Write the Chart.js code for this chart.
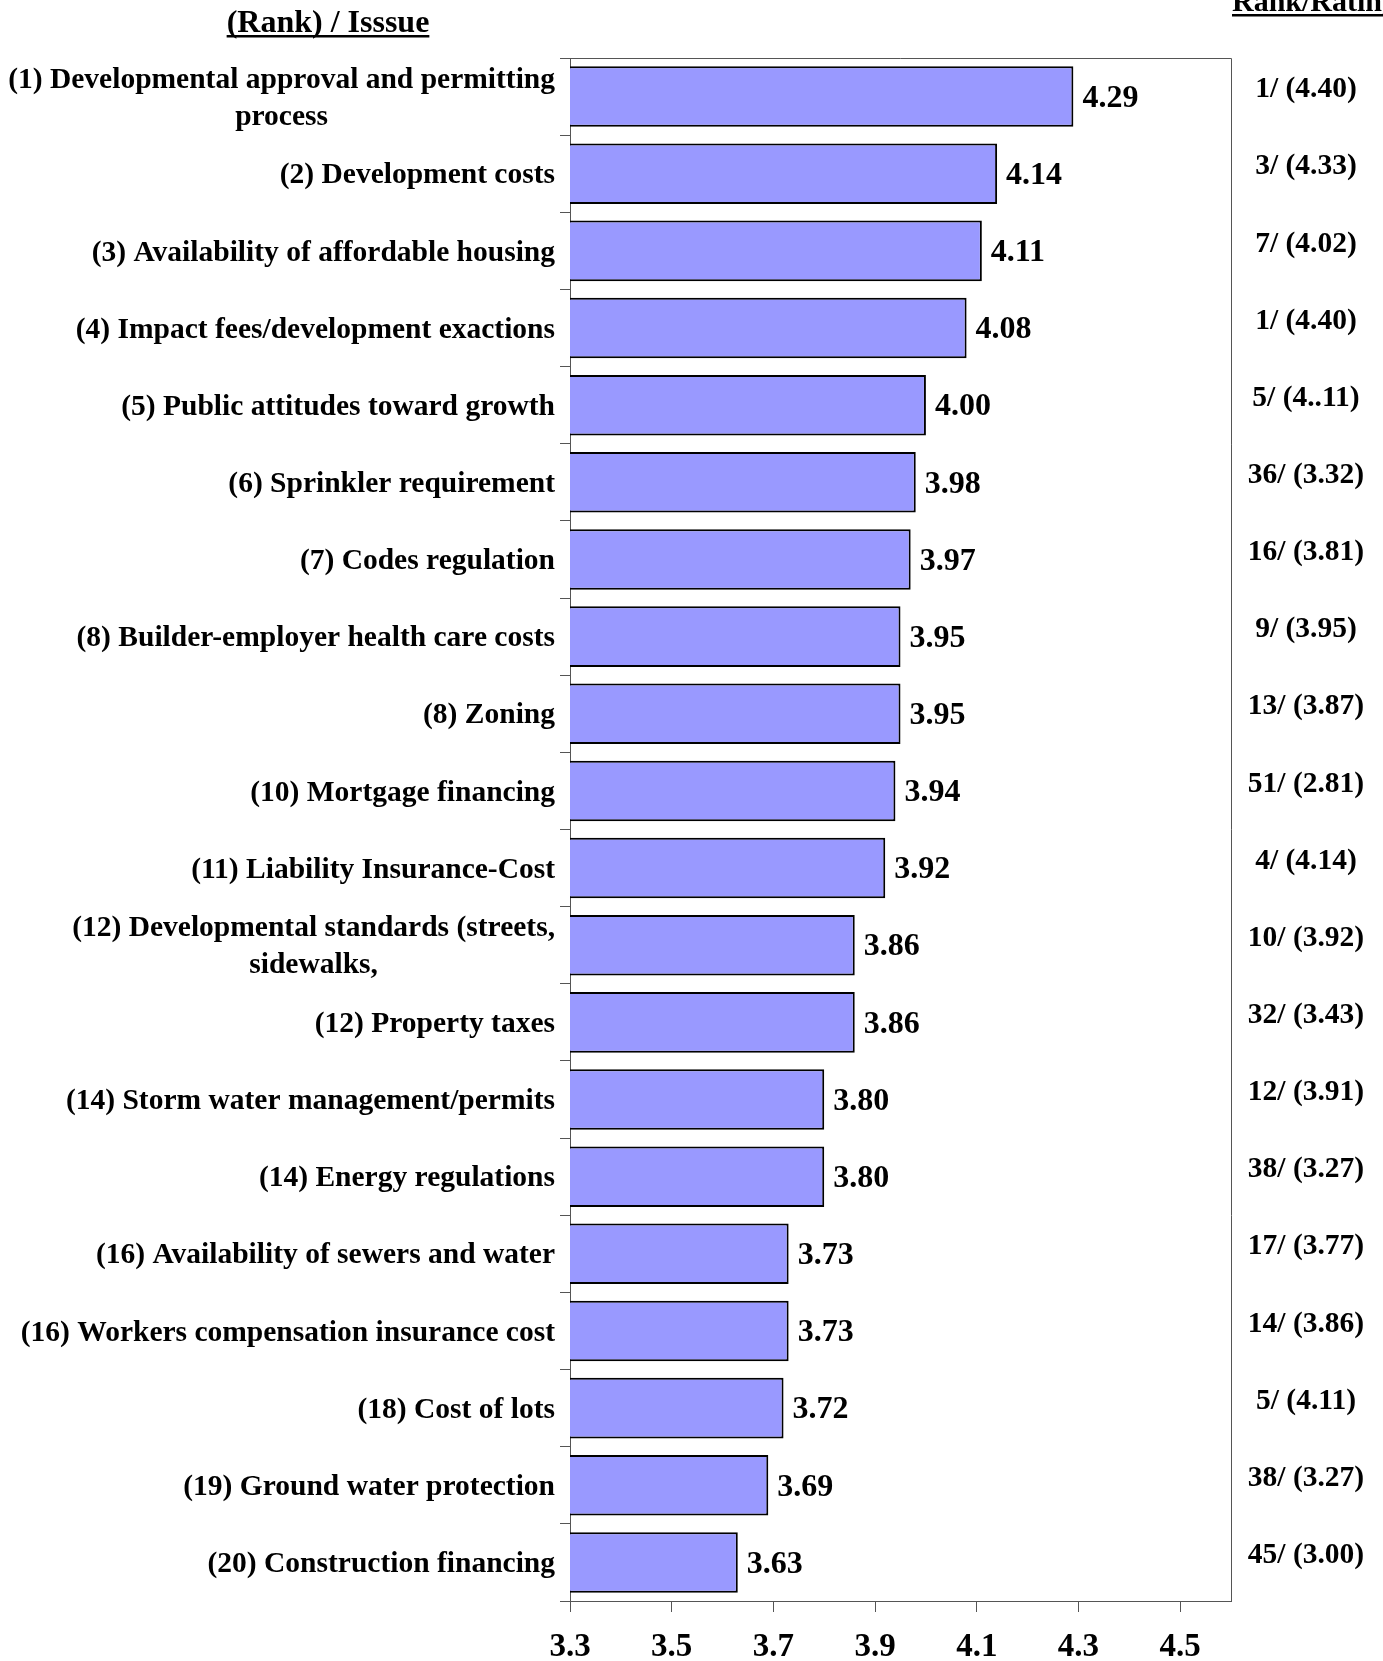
<!DOCTYPE html>
<html><head><meta charset="UTF-8">
<title>Rank / Issue</title>
<script src="https://cdn.jsdelivr.net/npm/chart.js@4"></script>
<style>
  body { margin: 0; background: #fff; }
  canvas { display: block; }
</style>
</head>
<body>
<canvas id="issues-chart" width="1383" height="1661"></canvas>
<script>
var issues = [
  ['(1) Developmental approval and permitting', 'process'],
  '(2) Development costs',
  '(3) Availability of affordable housing',
  '(4) Impact fees/development exactions',
  '(5) Public attitudes toward growth',
  '(6) Sprinkler requirement',
  '(7) Codes regulation',
  '(8) Builder-employer health care costs',
  '(8) Zoning',
  '(10) Mortgage financing',
  '(11) Liability Insurance-Cost',
  ['(12) Developmental standards (streets,', 'sidewalks,'],
  '(12) Property taxes',
  '(14) Storm water management/permits',
  '(14) Energy regulations',
  '(16) Availability of sewers and water',
  '(16) Workers compensation insurance cost',
  '(18) Cost of lots',
  '(19) Ground water protection',
  '(20) Construction financing'
];
var ratings = [4.29, 4.14, 4.11, 4.08, 4.00, 3.98, 3.97, 3.95, 3.95, 3.94,
               3.92, 3.86, 3.86, 3.80, 3.80, 3.73, 3.73, 3.72, 3.69, 3.63];
var rankRating = ['1/ (4.40)', '3/ (4.33)', '7/ (4.02)', '1/ (4.40)', '5/ (4..11)',
                  '36/ (3.32)', '16/ (3.81)', '9/ (3.95)', '13/ (3.87)', '51/ (2.81)',
                  '4/ (4.14)', '10/ (3.92)', '32/ (3.43)', '12/ (3.91)', '38/ (3.27)',
                  '17/ (3.77)', '14/ (3.86)', '5/ (4.11)', '38/ (3.27)', '45/ (3.00)'];
var xTicks = [3.3, 3.5, 3.7, 3.9, 4.1, 4.3, 4.5];

var serif = "'Liberation Serif', 'Times New Roman', serif";
var lineColor = '#555';

// labels, values, right column and headers are painted here
var textPlugin = {
  id: 'textPlugin',
  afterDraw: function(chart) {
    var ctx = chart.ctx;
    var area = chart.chartArea;
    var x = chart.scales.x, y = chart.scales.y;
    ctx.save();

    // frame top + right
    ctx.strokeStyle = lineColor;
    ctx.lineWidth = 1;
    ctx.beginPath();
    ctx.moveTo(area.left, area.top + 0.5);
    ctx.lineTo(area.right + 0.5, area.top + 0.5);
    ctx.lineTo(area.right + 0.5, area.bottom);
    ctx.stroke();

    ctx.fillStyle = '#000';
    ctx.textBaseline = 'middle';

    // category labels: block right aligned, lines centred inside it
    ctx.font = 'bold 29.5px ' + serif;
    var lineH = 37;
    issues.forEach(function(lab, i) {
      var lines = Array.isArray(lab) ? lab : [lab];
      var w = Math.max.apply(null, lines.map(function(l) { return ctx.measureText(l).width; }));
      var cx = area.left - 15 - w / 2;
      var cy = y.getPixelForValue(i) + 2 - (lines.length - 1) * lineH / 2;
      ctx.textAlign = 'center';
      lines.forEach(function(l, k) { ctx.fillText(l, cx, cy + k * lineH); });
    });

    // value labels at bar ends
    ctx.font = 'bold 32px ' + serif;
    ctx.textAlign = 'left';
    ratings.forEach(function(v, i) {
      ctx.fillText(v.toFixed(2), x.getPixelForValue(v) + 9, y.getPixelForValue(i) + 2);
    });

    // right column
    ctx.font = 'bold 29.5px ' + serif;
    ctx.textAlign = 'center';
    rankRating.forEach(function(t, i) {
      ctx.fillText(t, 1306, y.getPixelForValue(i) - 7);
    });

    // headers
    ctx.font = 'bold 32px ' + serif;
    ctx.textBaseline = 'alphabetic';
    function header(t, left, base) {
      var w = ctx.measureText(t).width;
      ctx.textAlign = 'left';
      ctx.fillText(t, left, base);
      ctx.fillRect(left, base + 3, w, 2.5);
    }
    ctx.font = 'bold 32px ' + serif;
    var hw = ctx.measureText('(Rank) / Isssue').width;
    header('(Rank) / Isssue', 328 - hw / 2, 32);
    ctx.font = 'bold 30px ' + serif;
    header('Rank/Rating', 1232, 11);

    ctx.restore();
  }
};

new Chart(document.getElementById('issues-chart'), {
  type: 'bar',
  data: {
    labels: issues,
    datasets: [{
      data: ratings,
      backgroundColor: '#9999ff',
      borderColor: '#000',
      borderWidth: 2,
      borderSkipped: false,
      categoryPercentage: 1,
      barPercentage: 0.785
    }]
  },
  options: {
    indexAxis: 'y',
    responsive: false,
    animation: false,
    layout: { padding: { top: 58, right: 152, left: 0, bottom: 0 } },
    plugins: { legend: { display: false }, tooltip: { enabled: false } },
    scales: {
      x: {
        type: 'linear',
        position: 'bottom',
        min: 3.3,
        max: 4.6,
        afterBuildTicks: function(scale) {
          scale.ticks = xTicks.map(function(v) { return { value: v }; });
        },
        afterFit: function(scale) { scale.height = 60; },
        grid: { drawOnChartArea: false, tickLength: 11, color: lineColor },
        border: { color: lineColor, width: 1 },
        ticks: {
          color: '#000',
          padding: 16,
          maxRotation: 0,
          font: { family: serif, size: 33, weight: 'bold' },
          callback: function(v) { return v.toFixed(1); }
        }
      },
      y: {
        type: 'category',
        afterFit: function(scale) { scale.width = 570; },
        grid: { drawOnChartArea: false, tickLength: 10, offset: true, color: lineColor },
        border: { color: lineColor, width: 1 },
        ticks: { display: false }
      }
    }
  },
  plugins: [textPlugin]
});
</script>
</body></html>
